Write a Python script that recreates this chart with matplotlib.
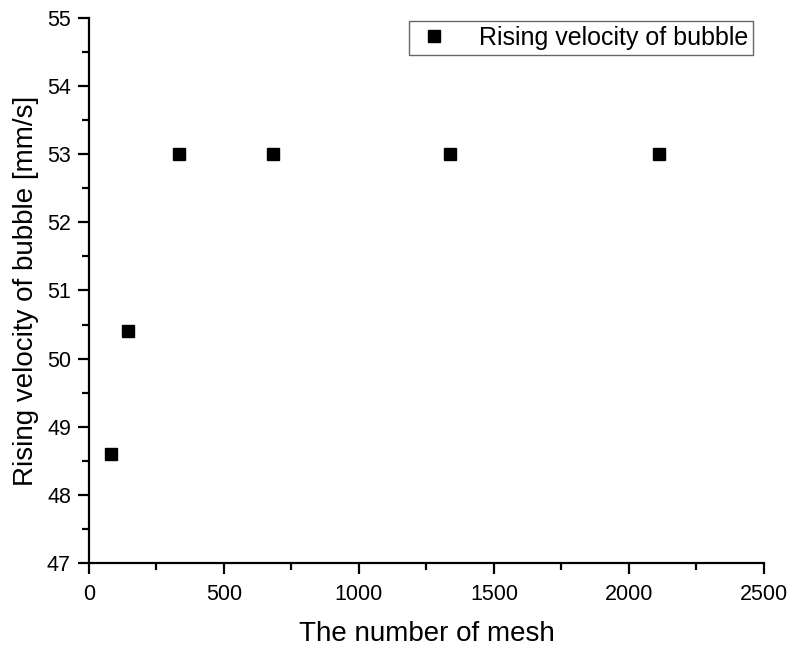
import numpy as np
import matplotlib
matplotlib.use("Agg")
import matplotlib.pyplot as plt
from matplotlib.ticker import MultipleLocator

plt.rcParams['font.family'] = ['Liberation Sans', 'DejaVu Sans']

# mesh number vs. rising velocity
mesh = [83, 146, 334, 683, 1338, 2110]
velocity = [48.6, 50.4, 53.0, 53.0, 53.0, 53.0]

fig = plt.figure(figsize=(7.93, 6.48), dpi=100)
ax = fig.add_axes([0.1122, 0.1312, 0.8512, 0.841])

ax.plot(mesh, velocity, 's', color='black', markersize=8.5,
        label='Rising velocity of bubble')

ax.set_xlim(0, 2500)
ax.set_ylim(47, 55)
ax.xaxis.set_major_locator(MultipleLocator(500))
ax.xaxis.set_minor_locator(MultipleLocator(250))
ax.yaxis.set_major_locator(MultipleLocator(1))
ax.yaxis.set_minor_locator(MultipleLocator(0.5))

for side in ['top', 'right']:
    ax.spines[side].set_visible(False)
for side in ['left', 'bottom']:
    ax.spines[side].set_linewidth(1.6)

ax.tick_params(which='major', direction='out', length=8, width=1.6,
               labelsize=15.5, colors='black', pad=5)
ax.tick_params(axis='x', which='major', pad=7)
ax.tick_params(which='minor', direction='out', length=5, width=1.6)

ax.set_xlabel('The number of mesh', fontsize=20, labelpad=12)
ax.set_ylabel('Rising velocity of bubble [mm/s]', fontsize=20, labelpad=6)

leg = ax.legend(loc='upper right', bbox_to_anchor=(0.988, 1.0), fontsize=18,
                fancybox=False, framealpha=1, edgecolor='#666666',
                handletextpad=1.0, borderpad=0.2, borderaxespad=0.1,
                handlelength=1.6)
leg.get_frame().set_linewidth(1.0)

fig.savefig('out.png', dpi=100)
